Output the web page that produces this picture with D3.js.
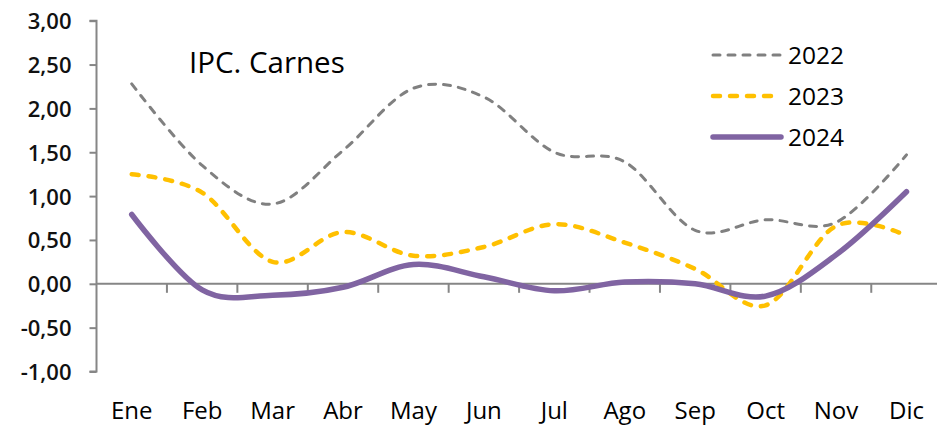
<!DOCTYPE html>
<html>
<head>
<meta charset="utf-8">
<script src="https://cdn.jsdelivr.net/npm/d3@7"></script>
<style>
  html, body { margin: 0; padding: 0; background: #fff; }
  svg { display: block; }
  text { font-family: "Open Sans", "Noto Sans", sans-serif; }
</style>
</head>
<body>
<svg id="chart" width="937" height="425"></svg>
<script>
const months = ["Ene","Feb","Mar","Abr","May","Jun","Jul","Ago","Sep","Oct","Nov","Dic"];
const years = ["2022","2023","2024"];
const values2022 = [2.28, 1.35, 0.91, 1.52, 2.23, 2.13, 1.50, 1.39, 0.61, 0.73, 0.70, 1.47];
const values2023 = [1.25, 1.04, 0.25, 0.59, 0.32, 0.42, 0.68, 0.47, 0.17, -0.245, 0.66, 0.55];
const values2024 = [0.79, -0.07, -0.13, -0.04, 0.22, 0.08, -0.08, 0.02, 0.0, -0.14, 0.33, 1.05];
const yTicks = [3, 2.5, 2, 1.5, 1, 0.5, 0, -0.5, -1];
const title = "IPC. Carnes";

const svg = d3.select("#chart");
const mLeft = 96.5, mRight = 941.7, mTop = 20.7, mBottom = 371.5;

const x = d3.scaleBand().domain(months).range([mLeft, mRight]).padding(0);
const y = d3.scaleLinear().domain([-1, 3]).range([mBottom, mTop]);
const axisColor = "#868686";

// Y axis
const yAxis = d3.axisLeft(y).tickValues(yTicks).tickSize(7).tickPadding(18)
  .tickFormat(d => d3.format(".2f")(d).replace(".", ",").replace("−", "-"));
const gy = svg.append("g").attr("transform", `translate(${mLeft},0)`).call(yAxis);
gy.select(".domain").attr("stroke", axisColor).attr("stroke-width", 2).attr("d", `M-7,${y(3)}H0V${y(-1)}H-7`);
gy.selectAll(".tick line").attr("stroke", axisColor).attr("stroke-width", 2);
gy.selectAll(".tick text").attr("fill", "#111").style("font-size", "22px").style("font-weight", 600)
  .attr("dy", "0.36em");

// X axis at zero
const gx = svg.append("g").attr("transform", `translate(0,${y(0)})`);
gx.append("line").attr("x1", mLeft).attr("x2", 937).attr("y1", 0).attr("y2", 0)
  .attr("stroke", axisColor).attr("stroke-width", 2);
gx.selectAll("line.tick").data(months.slice(1)).join("line").attr("class", "tick")
  .attr("x1", d => x(d)).attr("x2", d => x(d)).attr("y1", 0).attr("y2", 9)
  .attr("stroke", axisColor).attr("stroke-width", 2);

// Month labels
svg.append("g").selectAll("text").data(months).join("text")
  .attr("x", d => x(d) + x.bandwidth() / 2).attr("y", 419)
  .attr("text-anchor", "middle").attr("fill", "#000")
  .style("font-size", "24px").text(d => d);

// Lines
const series = [
  { name: years[0], values: values2022, color: "#808080", width: 3, dash: "7,8" },
  { name: years[1], values: values2023, color: "#FFC000", width: 4.5, dash: "7,10" },
  { name: years[2], values: values2024, color: "#8064A2", width: 5.5, dash: null }
];
const line = d3.line()
  .x((d, i) => x(months[i]) + x.bandwidth() / 2)
  .y(d => y(d))
  .curve(d3.curveCatmullRom.alpha(0));

series.forEach(s => {
  const p = svg.append("path").datum(s.values).attr("d", line)
    .attr("fill", "none").attr("stroke", s.color).attr("stroke-width", s.width)
    .attr("stroke-linecap", "round").attr("stroke-linejoin", "round");
  if (s.dash) p.attr("stroke-dasharray", s.dash);
});

// Title
svg.append("text").attr("x", 189).attr("y", 73).attr("fill", "#000")
  .style("font-size", "29.5px").text(title);

// Legend
const leg = svg.append("g");
series.forEach((s, i) => {
  const ly = 55 + i * 41;
  const l = leg.append("line").attr("x1", 713).attr("x2", 781).attr("y1", ly).attr("y2", ly)
    .attr("stroke", s.color).attr("stroke-width", s.width).attr("stroke-linecap", "round");
  if (s.dash) l.attr("stroke-dasharray", s.dash);
  leg.append("text").attr("x", 788).attr("y", ly).attr("dy", "0.36em")
    .attr("fill", "#000").style("font-size", "24.5px").text(s.name);
});
</script>
</body>
</html>
